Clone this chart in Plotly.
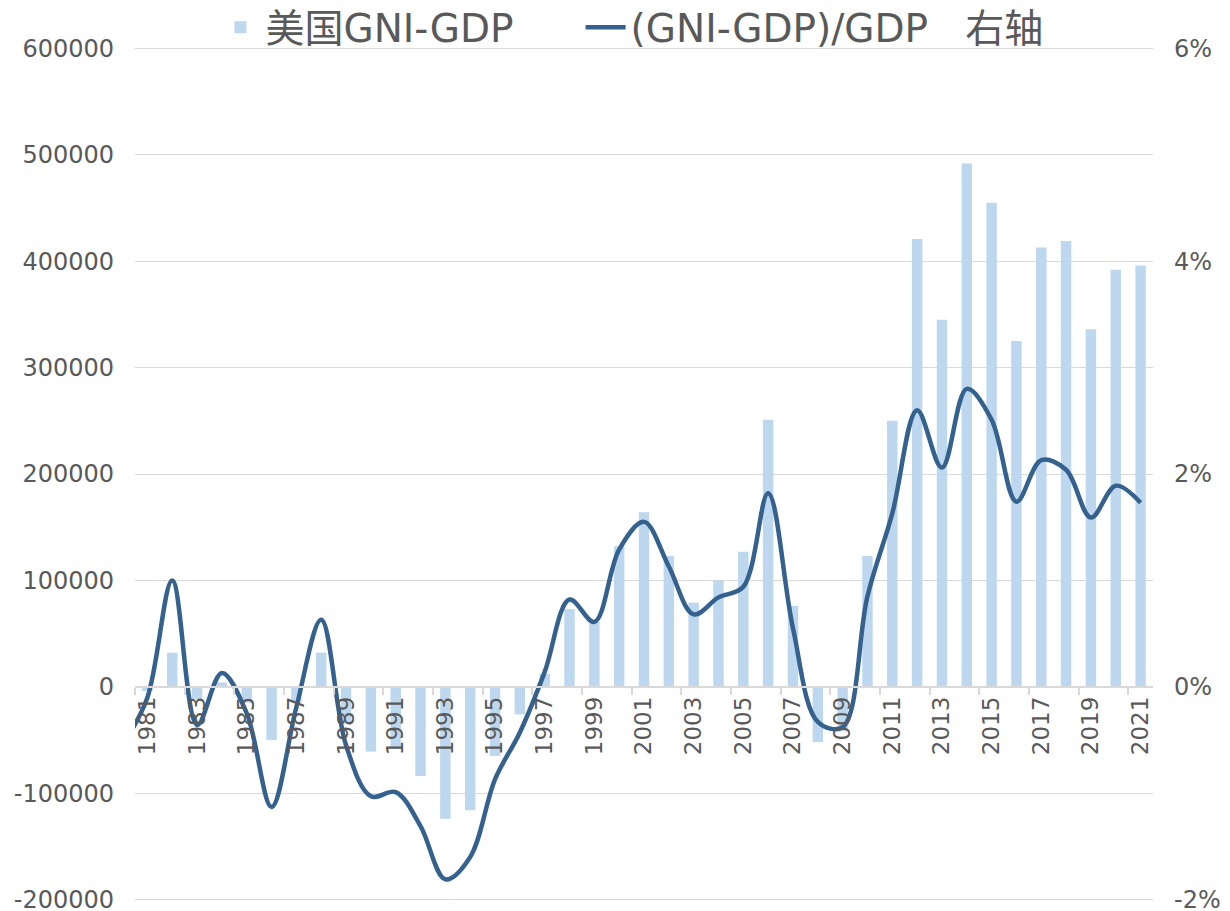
import plotly.graph_objects as go

# ---- data ----
years_bar = list(range(1981, 2022))
gni_minus_gdp = [
    -4000, 32000, -12000, 4000, -15000, -50000, -15000, 32000, -35000, -61000,
    -58000, -84000, -124000, -116000, -65000, -26000, 12000, 73000, 61000, 132000,
    164000, 123000, 79000, 100000, 127000, 251000, 76000, -52000, -42000, 123000,
    250000, 421000, 345000, 492000, 455000, 325000, 413000, 419000, 336000, 392000,
    396000,
]
line_years = list(range(1980, 2022))
ratio_pct = [
    -0.55, -0.10, 1.00, -0.36, 0.13, -0.25, -1.13, -0.19, 0.63, -0.55,
    -1.03, -0.99, -1.31, -1.81, -1.60, -0.87, -0.43, 0.14, 0.82, 0.61,
    1.29, 1.55, 1.13, 0.68, 0.84, 0.94, 1.82, 0.55, -0.33, -0.38,
    0.85, 1.63, 2.60, 2.06, 2.80, 2.51, 1.74, 2.13, 2.04, 1.59,
    1.89, 1.73,
]
left_ticks = [-200000, -100000, 0, 100000, 200000, 300000, 400000, 500000, 600000]
right_ticks = [-2, 0, 2, 4, 6]

label_years = years_bar[::2]
label_text = [str(y) for y in label_years]
boundary_ticks = [y - 0.5 for y in label_years]
left_text = [str(v) for v in left_ticks]
right_text = [f"{v}%" for v in right_ticks]

# small padding (~1.5 px) so the edge gridlines are drawn
pad = 1.5 / 852
l_min, l_max = left_ticks[0], left_ticks[-1]
l_span = l_max - l_min
left_range = [l_min - pad * l_span, l_max + pad * l_span]
r_min, r_max = right_ticks[0], right_ticks[-1]
r_span = r_max - r_min
right_range = [r_min - pad * r_span, r_max + pad * r_span]
zero_pos = (0 - left_range[0]) / (left_range[1] - left_range[0])

FONT = "Verdana, DejaVu Sans, Noto Sans CJK SC, sans-serif"
TXT = "#595959"
GRID = "#d9d9d9"
NB = "\u00a0"

fig = go.Figure()
fig.add_trace(go.Bar(
    x=years_bar, y=gni_minus_gdp, name="美国GNI-GDP" + NB * 5,
    marker=dict(color="#bdd7ee", line=dict(width=0)), width=0.42,
    xaxis="x", yaxis="y",
))
fig.add_trace(go.Scatter(
    x=line_years, y=ratio_pct, name="(GNI-GDP)/GDP" + NB * 3 + "右轴",
    mode="lines", line=dict(color="#35618f", width=4.5, shape="spline", smoothing=1.0),
    xaxis="x2", yaxis="y2",
))

fig.update_layout(
    width=1222, height=903,
    paper_bgcolor="white", plot_bgcolor="white",
    margin=dict(l=127, r=77, t=38.5, b=9.5, autoexpand=False),
    font=dict(family=FONT, color=TXT, size=24),
    showlegend=True,
    legend=dict(
        orientation="h", x=0.079, xanchor="left", y=1.023, yanchor="middle",
        bgcolor="rgba(0,0,0,0)", font=dict(size=39, color=TXT, family=FONT),
        itemwidth=40, traceorder="normal",
    ),
    xaxis=dict(
        range=[1980.5, 2021.5], tickmode="array", tickvals=label_years, ticktext=label_text,
        tickangle=-90, ticks="", showline=True, linecolor=GRID, linewidth=1.5,
        anchor="free", position=zero_pos, showgrid=False, zeroline=False,
        tickfont=dict(size=23, color=TXT), automargin=False,
    ),
    xaxis2=dict(
        range=[1980.5, 2021.5], overlaying="x", tickmode="array", tickvals=boundary_ticks,
        showticklabels=False, ticks="outside", ticklen=7, tickcolor=GRID, tickwidth=1.5,
        anchor="free", position=zero_pos, showgrid=False, zeroline=False, showline=False,
        automargin=False,
    ),
    yaxis=dict(
        range=left_range, tickmode="array", tickvals=left_ticks, ticktext=left_text,
        showgrid=True, gridcolor=GRID, gridwidth=1.3, zeroline=False,
        tickfont=dict(size=24, color=TXT), ticklabelstandoff=20, automargin=False,
        ticklabeloverflow="allow",
    ),
    yaxis2=dict(
        range=right_range, tickmode="array", tickvals=right_ticks, ticktext=right_text,
        overlaying="y", side="right", anchor="x2", showgrid=False, zeroline=False,
        tickfont=dict(size=24, color=TXT), ticklabelstandoff=20, automargin=False,
        ticklabeloverflow="allow",
    ),
)

fig.write_html("out.html")
